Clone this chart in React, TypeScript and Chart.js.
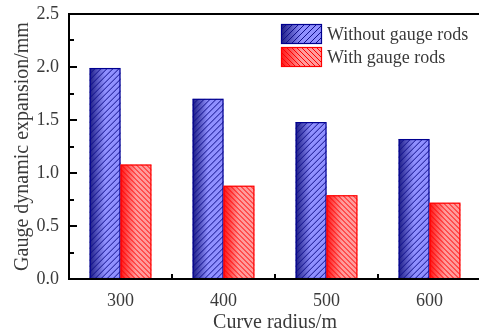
import React, { useEffect, useRef } from 'react';
import { Chart, registerables } from 'chart.js';

Chart.register(...registerables);

const categories = ['300', '400', '500', '600'];
const withoutRods = [1.99, 1.7, 1.48, 1.32];
const withRods = [1.08, 0.88, 0.79, 0.72];
const seriesLabels = ['Without gauge rods', 'With gauge rods'];
const yTicks = [0, 0.5, 1.0, 1.5, 2.0, 2.5];
const yMinorTicks = [0.25, 0.75, 1.25, 1.75, 2.25];

const FONT = "'Liberation Serif', 'Times New Roman', serif";
const TEXT = '#3a3a3a';

type BoxStyle = { dark: string; light: string; line: string; border: string; dir: number; gap: number };
const styles: BoxStyle[] = [
  { dark: '#1c1c84', light: '#9090ff', line: '#10108a', border: '#000090', dir: 1, gap: 6 },
  { dark: '#ff1414', light: '#ff9c9c', line: '#ff0000', border: '#ff0000', dir: -1, gap: 5 },
];

function paintBox(ctx: CanvasRenderingContext2D, l: number, t: number, r: number, b: number, s: BoxStyle) {
  ctx.save();
  ctx.beginPath();
  ctx.rect(l, t, r - l, b - t);
  ctx.clip();
  const g = ctx.createLinearGradient(l, 0, r, 0);
  g.addColorStop(0, s.dark);
  g.addColorStop(0.5, s.light);
  g.addColorStop(1, s.light);
  ctx.fillStyle = g;
  ctx.fillRect(l, t, r - l, b - t);
  ctx.strokeStyle = s.line;
  ctx.lineWidth = 1;
  ctx.beginPath();
  const h = b - t;
  for (let x = l - h - s.gap; x < r + h + s.gap; x += s.gap) {
    if (s.dir > 0) {
      ctx.moveTo(x, b);
      ctx.lineTo(x + h, t);
    } else {
      ctx.moveTo(x, t);
      ctx.lineTo(x + h, b);
    }
  }
  ctx.stroke();
  ctx.restore();
  ctx.save();
  ctx.strokeStyle = s.border;
  ctx.lineWidth = 1.2;
  ctx.strokeRect(l + 0.5, t + 0.5, r - l - 1, b - t - 1);
  ctx.restore();
}

const customPlugin = {
  id: 'customDraw',
  afterDatasetsDraw(chart: any) {
    const ctx: CanvasRenderingContext2D = chart.ctx;
    chart.data.datasets.forEach((_ds: any, di: number) => {
      const meta = chart.getDatasetMeta(di);
      meta.data.forEach((el: any) => {
        const { x, y, base, width } = el.getProps(['x', 'y', 'base', 'width'], true);
        paintBox(ctx, x - width / 2, Math.min(y, base), x + width / 2, Math.max(y, base), styles[di]);
      });
    });
  },
  afterDraw(chart: any) {
    const ctx: CanvasRenderingContext2D = chart.ctx;
    const { left, right, top, bottom } = chart.chartArea;
    const xs = chart.scales.x;
    const ys = chart.scales.y;
    ctx.save();
    ctx.fillStyle = '#000';
    // axis lines
    ctx.fillRect(left - 1, top - 1, 2, bottom - top + 2);
    ctx.fillRect(left - 1, bottom - 1, right - left + 2, 2);
    ctx.fillRect(left - 1, top - 1, right - left + 2, 2);
    // y ticks (inward)
    yTicks.forEach((v) => {
      const py = ys.getPixelForValue(v);
      ctx.fillRect(left, Math.round(py) - 1, 8, 2);
    });
    yMinorTicks.forEach((v) => {
      const py = ys.getPixelForValue(v);
      ctx.fillRect(left, Math.round(py) - 1, 5, 2);
    });
    // x ticks at category boundaries (inward)
    const step = xs.getPixelForValue(1) - xs.getPixelForValue(0);
    for (let i = 0; i < categories.length; i++) {
      const px = xs.getPixelForValue(i) + step / 2;
      ctx.fillRect(Math.round(px) - 1, bottom - 5, 2, 5);
    }
    // legend
    const lx = 281;
    const ly = 24;
    const bw = 41;
    const bh = 20;
    const gapY = 23;
    ctx.font = `18px ${FONT}`;
    ctx.textBaseline = 'middle';
    ctx.textAlign = 'left';
    seriesLabels.forEach((label, i) => {
      const y0 = ly + i * gapY;
      paintBox(ctx, lx, y0, lx + bw, y0 + bh, styles[i]);
      ctx.fillStyle = TEXT;
      ctx.fillText(label, lx + bw + 5, y0 + bh / 2 + 1);
    });
    ctx.restore();
  },
};

export default function App() {
  const canvasRef = useRef<HTMLCanvasElement | null>(null);

  useEffect(() => {
    document.body.style.margin = '0';
    document.body.style.overflow = 'hidden';
    const canvas = canvasRef.current;
    if (!canvas) return;
    const chart = new Chart(canvas, {
      type: 'bar',
      data: {
        labels: categories,
        datasets: [
          {
            label: seriesLabels[0],
            data: withoutRods,
            backgroundColor: 'rgba(0,0,0,0)',
            borderWidth: 0,
            categoryPercentage: 0.6,
            barPercentage: 1.0,
          },
          {
            label: seriesLabels[1],
            data: withRods,
            backgroundColor: 'rgba(0,0,0,0)',
            borderWidth: 0,
            categoryPercentage: 0.6,
            barPercentage: 1.0,
          },
        ],
      },
      options: {
        animation: false,
        responsive: false,
        maintainAspectRatio: false,
        devicePixelRatio: 1,
        layout: { padding: { top: 14, right: 9, left: 0, bottom: 0 } },
        plugins: { legend: { display: false }, tooltip: { enabled: false } },
        scales: {
          x: {
            type: 'category',
            grid: { display: false, drawTicks: false },
            border: { display: false },
            ticks: { color: TEXT, font: { family: FONT, size: 18 }, padding: 11 },
            title: {
              display: true,
              text: 'Curve radius/m',
              color: TEXT,
              font: { family: FONT, size: 20 },
              padding: { top: 0, bottom: -4 },
            },
            afterFit: (s: any) => {
              s.height = 52;
              s.paddingLeft = 0;
              s.paddingRight = 0;
            },
          },
          y: {
            min: 0,
            max: 2.5,
            grid: { display: false, drawTicks: false },
            border: { display: false },
            afterBuildTicks: (s: any) => {
              s.ticks = yTicks.map((v) => ({ value: v }));
            },
            ticks: {
              color: TEXT,
              font: { family: FONT, size: 18 },
              padding: 10,
              callback: (v: any) => Number(v).toFixed(1),
            },
            title: {
              display: true,
              text: 'Gauge dynamic expansion/mm',
              color: TEXT,
              font: { family: FONT, size: 20 },
              padding: { top: 11, bottom: 0 },
            },
            afterFit: (s: any) => {
              s.width = 69;
              s.paddingTop = 0;
              s.paddingBottom = 0;
            },
          },
        },
      },
      plugins: [customPlugin],
    } as any);
    return () => chart.destroy();
  }, []);

  return (
    <div style={{ width: 479, height: 331, overflow: 'hidden', position: 'relative' }}>
      <canvas ref={canvasRef} width={490} height={331} style={{ width: 490, height: 331, display: 'block' }} />
    </div>
  );
}
